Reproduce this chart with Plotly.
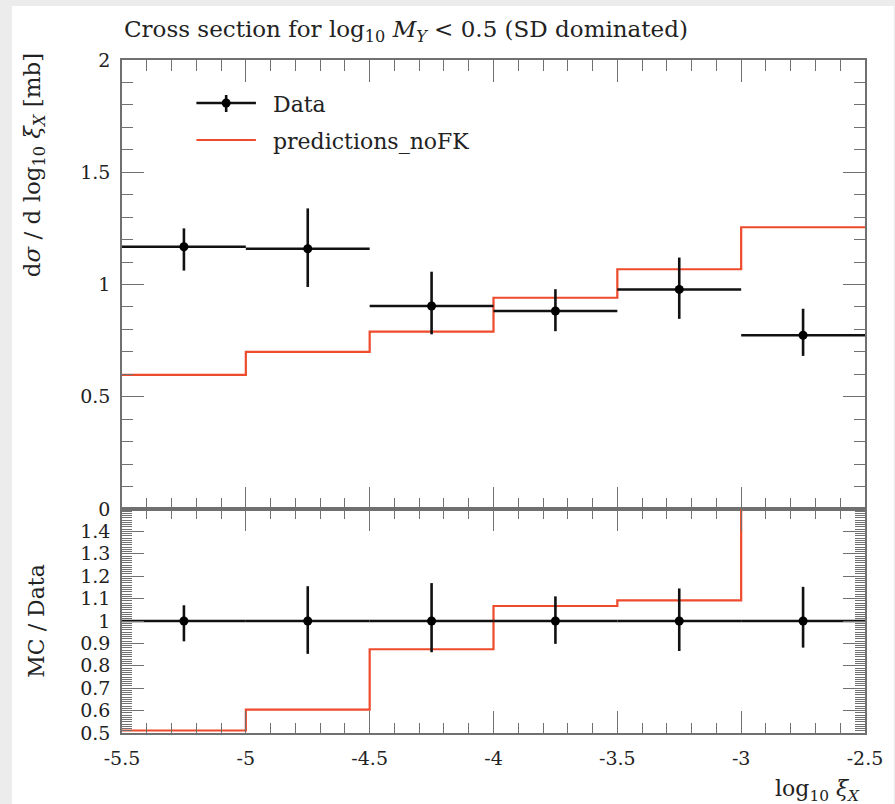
import plotly.graph_objects as go

# ---------------- data ----------------
bin_edges = [-5.5, -5.0, -4.5, -4.0, -3.5, -3.0, -2.5]
data_vals = [1.168, 1.159, 0.904, 0.882, 0.978, 0.774]
data_err_up = [0.082, 0.180, 0.153, 0.097, 0.142, 0.118]
data_err_dn = [0.106, 0.170, 0.126, 0.090, 0.131, 0.092]
pred_vals = [0.597, 0.700, 0.790, 0.941, 1.068, 1.255]

top_yticks = [0, 0.5, 1, 1.5, 2]
top_yticklabels = ["0", "0.5", "1", "1.5", "2"]
ratio_yticks = [0.5, 0.6, 0.7, 0.8, 0.9, 1.0, 1.1, 1.2, 1.3, 1.4]
ratio_yticklabels = ["0.5", "0.6", "0.7", "0.8", "0.9", "1", "1.1", "1.2", "1.3", "1.4"]
xticks = [-5.5, -5, -4.5, -4, -3.5, -3, -2.5]
xticklabels = ["-5.5", "-5", "-4.5", "-4", "-3.5", "-3", "-2.5"]

# derived
centers = [(a + b) / 2 for a, b in zip(bin_edges[:-1], bin_edges[1:])]
halfw = [(b - a) / 2 for a, b in zip(bin_edges[:-1], bin_edges[1:])]
ratio_pred = [p / d for p, d in zip(pred_vals, data_vals)]
ratio_one = [d / d for d in data_vals]
ratio_up = [e / d for e, d in zip(data_err_up, data_vals)]
ratio_dn = [e / d for e, d in zip(data_err_dn, data_vals)]

RED = "#ee4a2c"
AX = "#707070"
TXT = "#222222"
FONT = "DejaVu Serif"

W, H = 895, 804
L, R, T, B = 122, 24, 60, 71
PW, PH = W - L - R, H - T - B
split = 224 / PH


def px(xp):
    return (xp - L) / PW


def py(yp):
    return (H - B - yp) / PH


fig = go.Figure()

# top panel
fig.add_trace(go.Scatter(
    x=bin_edges, y=pred_vals + [pred_vals[-1]], mode="lines",
    line=dict(color=RED, width=2.2, shape="hv"), xaxis="x", yaxis="y",
    showlegend=False, hoverinfo="skip"))
fig.add_trace(go.Scatter(
    x=centers, y=data_vals, mode="markers",
    marker=dict(color="black", size=9),
    error_x=dict(type="data", array=halfw, width=0, thickness=2.6, color="#111"),
    error_y=dict(type="data", symmetric=False, array=data_err_up, arrayminus=data_err_dn,
                 width=0, thickness=2.6, color="#111"),
    xaxis="x", yaxis="y", showlegend=False))

# ratio panel
fig.add_trace(go.Scatter(
    x=bin_edges, y=ratio_pred + [ratio_pred[-1]], mode="lines",
    line=dict(color=RED, width=2.2, shape="hv"), xaxis="x2", yaxis="y2",
    showlegend=False, hoverinfo="skip"))
fig.add_trace(go.Scatter(
    x=centers, y=ratio_one, mode="markers",
    marker=dict(color="black", size=9),
    error_x=dict(type="data", array=halfw, width=0, thickness=2.6, color="#111"),
    error_y=dict(type="data", symmetric=False, array=ratio_up, arrayminus=ratio_dn,
                 width=0, thickness=2.6, color="#111"),
    xaxis="x2", yaxis="y2", showlegend=False))

axis_common = dict(
    showline=True, linecolor=AX, linewidth=1.5, mirror="allticks",
    ticks="inside", tickcolor=AX, tickwidth=1.3, ticklen=22,
    showgrid=False, zeroline=False,
    tickfont=dict(family=FONT, size=19, color=TXT),
)

fig.update_layout(
    width=W, height=H,
    font=dict(family=FONT, color=TXT),
    margin=dict(l=L, r=R, t=T, b=B),
    paper_bgcolor="#ececec", plot_bgcolor="white",
    xaxis=dict(**axis_common, domain=[0, 1], anchor="y", range=[-5.5, -2.5],
               tickvals=xticks, showticklabels=False,
               minor=dict(dtick=0.1, ticks="inside", ticklen=11, tickcolor=AX, tickwidth=1.3)),
    yaxis=dict(**axis_common, domain=[split, 1], anchor="x", range=[0, 2],
               tickvals=top_yticks, ticktext=top_yticklabels, ticklabelstandoff=6,
               minor=dict(dtick=0.1, ticks="inside", ticklen=11, tickcolor=AX, tickwidth=1.3)),
    xaxis2=dict(**axis_common, domain=[0, 1], anchor="y2", range=[-5.5, -2.5],
                tickvals=xticks, ticktext=xticklabels, ticklabelstandoff=7,
                minor=dict(dtick=0.1, ticks="inside", ticklen=10, tickcolor=AX, tickwidth=1.3)),
    yaxis2=dict(**axis_common, domain=[0, split], anchor="x2", range=[0.5, 1.5],
                tickvals=ratio_yticks, ticktext=ratio_yticklabels, ticklabelstandoff=6,
                minor=dict(dtick=0.01, ticks="inside", ticklen=10, tickcolor=AX, tickwidth=1)),
)

shapes = [
    dict(type="rect", xref="paper", yref="paper", layer="below",
         x0=px(11), x1=px(W + 5), y0=py(H + 5), y1=py(6),
         fillcolor="white", line=dict(width=0)),
    # legend samples
    dict(type="line", xref="paper", yref="paper", x0=px(197), x1=px(257), y0=py(103), y1=py(103),
         line=dict(color="#111", width=2.6)),
    dict(type="line", xref="paper", yref="paper", x0=px(227), x1=px(227), y0=py(95), y1=py(112),
         line=dict(color="#111", width=2.6)),
    dict(type="circle", xref="paper", yref="paper", x0=px(222.5), x1=px(231.5), y0=py(107.5), y1=py(98.5),
         fillcolor="black", line=dict(width=0)),
    dict(type="line", xref="paper", yref="paper", x0=px(197), x1=px(257), y0=py(140), y1=py(140),
         line=dict(color=RED, width=2.2)),
]
fig.update_layout(shapes=shapes)

ann = [
    dict(text="Cross section for log<sub>10</sub> <i>M<sub>Y</sub></i> &lt; 0.5 (SD dominated)",
         x=px(122), y=py(31), xanchor="left", yanchor="middle",
         font=dict(family=FONT, size=23, color=TXT)),
    dict(text="Data", x=px(272), y=py(104), xanchor="left", yanchor="middle",
         font=dict(family=FONT, size=22, color=TXT)),
    dict(text="predictions_noFK", x=px(272), y=py(141), xanchor="left", yanchor="middle",
         font=dict(family=FONT, size=22, color=TXT)),
    dict(text="d<i>σ</i> / d log<sub>10</sub> <i>ξ<sub>X</sub></i> [mb]", textangle=-90,
         x=px(33), y=py(50), xanchor="center", yanchor="top",
         font=dict(family=FONT, size=23, color=TXT)),
    dict(text="MC / Data", textangle=-90,
         x=px(35), y=py(621), xanchor="center", yanchor="middle",
         font=dict(family=FONT, size=22, color=TXT)),
    dict(text="log<sub>10</sub> <i>ξ<sub>X</sub></i>",
         x=px(868), y=py(790), xanchor="right", yanchor="middle",
         font=dict(family=FONT, size=22, color=TXT)),
]
for a in ann:
    a.update(xref="paper", yref="paper", showarrow=False)
fig.update_layout(annotations=ann)

fig.write_html("out.html")
